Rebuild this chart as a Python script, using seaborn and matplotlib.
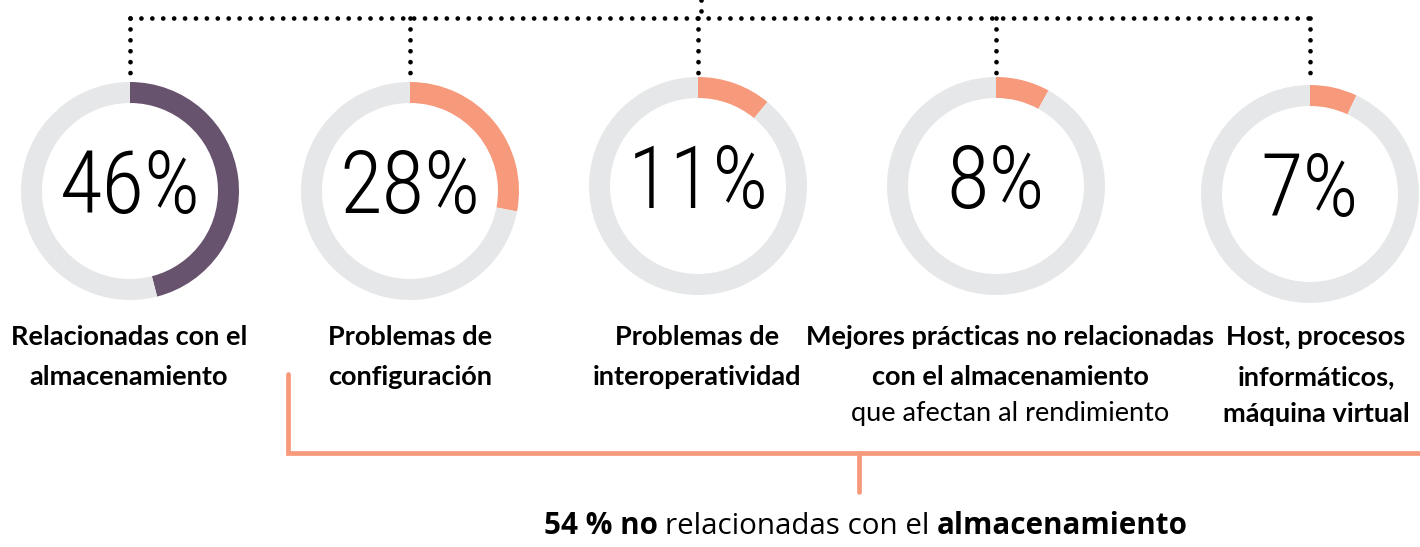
import matplotlib
matplotlib.use("Agg")
import matplotlib.pyplot as plt
import seaborn as sns

# data
values = [46, 28, 11, 8, 7]
seg_colors = ["#68536F", "#F7997B", "#F7997B", "#F7997B", "#F7997B"]
rest_color = "#E6E7E8"
labels = [
    [("Relacionadas con el", "bold"), ("almacenamiento", "bold")],
    [("Problemas de", "bold"), ("configuración", "bold")],
    [("Problemas de", "bold"), ("interoperatividad", "bold")],
    [("Mejores prácticas no relacionadas", "bold"), ("con el almacenamiento", "bold"),
     ("que afectan al rendimiento", "normal")],
    [("Host, procesos", "bold"), ("informáticos,", "bold"), ("máquina virtual", "bold")],
]
footer = [("54 % no", "bold"), ("relacionadas con el", "normal"), ("almacenamiento", "bold")]

# layout (pixel coords, y measured from top)
W, H = 1420, 547
centers_x = [130, 410, 698, 996, 1310]
centers_y = [191, 191, 186, 186, 194]
label_x = [129, 410, 697, 1010, 1316]
R, RING = 109, 21

sns.set_theme(style="white")
num_font = ["Roboto Condensed", "DejaVu Sans"]
lab_font = ["Lato", "DejaVu Sans"]
foot_font = ["Open Sans", "DejaVu Sans"]
plt.rcParams["font.family"] = lab_font

fig = plt.figure(figsize=(W / 100, H / 100), dpi=100)
ax = fig.add_axes([0, 0, 1, 1])

for v, c, cx, cy in zip(values, seg_colors, centers_x, centers_y):
    ax.pie([v, 100 - v], colors=[c, rest_color], startangle=90, counterclock=False,
           radius=R, center=(cx, H - cy),
           wedgeprops=dict(width=RING, linewidth=0))
    ax.text(cx, H - cy + 2, f"{v}%", ha="center", va="center", fontsize=63,
            family=num_font, fontweight="light", color="black")

# dotted connector on top
top_y = H - 17.5
dot_kw = dict(color="black", lw=3.4, dash_capstyle="round", linestyle=(0, (0.01, 2.3)))
ax.plot([centers_x[0], centers_x[-1]], [top_y, top_y], **dot_kw)
ax.plot([701, 701], [H, top_y], **dot_kw)
for cx, cy in zip(centers_x, centers_y):
    ax.plot([cx, cx], [top_y, H - cy + R + 4], **dot_kw)

# category labels
line_y = [337, 377, 414]
for lx, lines in zip(label_x, labels):
    for i, (txt, w) in enumerate(lines):
        ax.text(lx, H - line_y[i], txt, ha="center", va="center", fontsize=19.5,
                fontweight=w, color="black")

# orange bracket
orange = "#F7997B"
ax.plot([288, 288, W], [H - 374, H - 453, H - 453], color=orange, lw=3.4,
        solid_joinstyle="miter")
ax.plot([859, 859], [H - 453, H - 492], color=orange, lw=3.4)

# footer with mixed weights, centered
fig.canvas.draw()
rend = fig.canvas.get_renderer()
parts = []
for txt, w in footer:
    t = ax.text(0, H - 526, txt, ha="left", va="center", fontsize=21.3,
                fontweight=w, family=foot_font, color="black")
    parts.append(t)
fig.canvas.draw()
gap = 7
widths = [p.get_window_extent(rend).width for p in parts]
total = sum(widths) + gap * (len(parts) - 1)
x = 866 - total / 2
for p, wd in zip(parts, widths):
    p.set_x(x)
    x += wd + gap

ax.set_xlim(0, W)
ax.set_ylim(0, H)
ax.set_aspect("auto")
ax.axis("off")
fig.savefig("out.png", dpi=100)
